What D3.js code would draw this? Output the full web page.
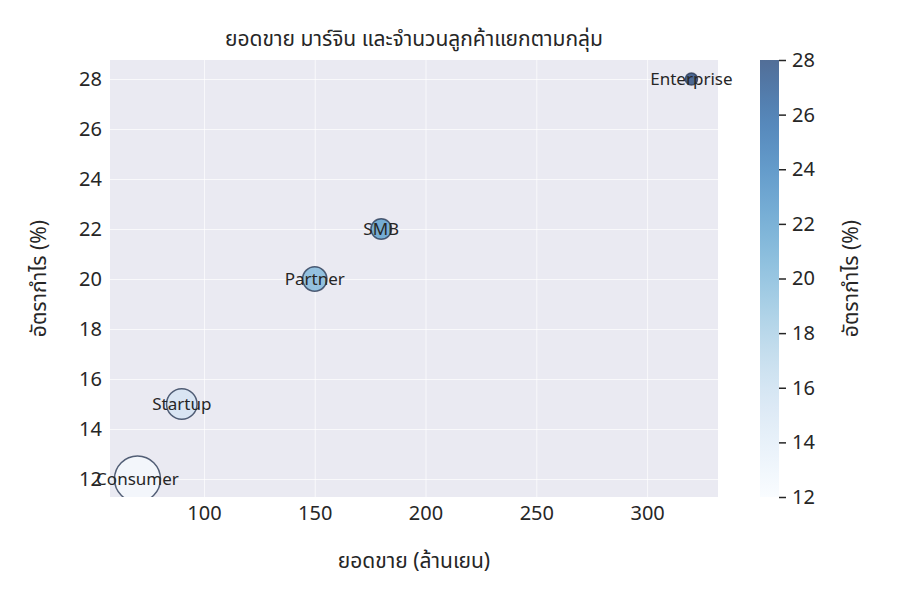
<!DOCTYPE html>
<html><head><meta charset="utf-8">
<script src="https://cdn.jsdelivr.net/npm/d3@7"></script>
<style>body{margin:0;background:#fff}text{font-family:"Noto Sans","Noto Sans Thai",sans-serif;fill:#262626}</style>
</head><body><svg id="c" width="900" height="600"></svg>
<script>
const segments=["Consumer","Startup","Partner","SMB","Enterprise"];
const sales=[70,90,150,180,320];
const margin=[12,15,20,22,28];
const customers=[500,220,140,100,35];
const xTicks=[100,150,200,250,300];
const yTicks=[12,14,16,18,20,22,24,26,28];
const cbTicks=[12,14,16,18,20,22,24,26,28];

const svg=d3.select("#c");
const L=110,R=718,T=60,B=497;
const x=d3.scaleLinear().domain([57.6,332]).range([L,R]);
const y=d3.scaleLinear().domain([11.28,28.76]).range([B,T]);
const r=d3.scaleSqrt().domain([0,500]).range([0,23]);
const col=v=>d3.interpolateBlues((v-12)/16);

svg.append("rect").attr("x",L).attr("y",T).attr("width",R-L).attr("height",B-T).attr("fill","#EAEAF2");
const defs=svg.append("defs");
defs.append("clipPath").attr("id","pc").append("rect").attr("x",L).attr("y",T).attr("width",R-L).attr("height",B-T);

svg.append("g").attr("transform",`translate(0,${B})`).call(d3.axisBottom(x).tickValues(xTicks).tickSize(-(B-T)).tickPadding(9))
 .call(g=>{g.select(".domain").remove();g.selectAll("line").attr("stroke","#fff").attr("stroke-opacity",0.7);g.selectAll("text").attr("font-size",20);});
svg.append("g").attr("transform",`translate(${L},0)`).call(d3.axisLeft(y).tickValues(yTicks).tickSize(-(R-L)).tickPadding(8))
 .call(g=>{g.select(".domain").remove();g.selectAll("line").attr("stroke","#fff").attr("stroke-opacity",0.7);g.selectAll("text").attr("font-size",20);});

const pg=svg.append("g").attr("clip-path","url(#pc)");
segments.forEach((s,i)=>{
  pg.append("circle").attr("cx",x(sales[i])).attr("cy",y(margin[i])).attr("r",r(customers[i]))
    .attr("fill",col(margin[i])).attr("fill-opacity",0.7).attr("stroke","#2b3a55").attr("stroke-opacity",0.8).attr("stroke-width",1.5);
});
segments.forEach((s,i)=>{
  svg.append("text").attr("x",x(sales[i])).attr("y",y(margin[i])).attr("dy","0.35em").attr("text-anchor","middle").attr("font-size",17).text(s);
});

svg.append("text").attr("x",(L+R)/2).attr("y",46).attr("text-anchor","middle").attr("font-size",21).text("ยอดขาย มาร์จิน และจำนวนลูกค้าแยกตามกลุ่ม");
svg.append("text").attr("x",(L+R)/2).attr("y",568).attr("text-anchor","middle").attr("font-size",21).text("ยอดขาย (ล้านเยน)");
svg.append("text").attr("transform",`translate(46,${(T+B)/2}) rotate(-90)`).attr("text-anchor","middle").attr("font-size",21).text("อัตรากำไร (%)");

const cx0=760,cw=19;
const cy=d3.scaleLinear().domain([12,28]).range([B,T]);
const grad=defs.append("linearGradient").attr("id","cb").attr("x1",0).attr("y1",1).attr("x2",0).attr("y2",0);
d3.range(0,1.001,0.05).forEach(t=>grad.append("stop").attr("offset",t).attr("stop-color",d3.interpolateBlues(t)).attr("stop-opacity",0.7));
svg.append("rect").attr("x",cx0).attr("y",T).attr("width",cw).attr("height",B-T).attr("fill","url(#cb)");
svg.append("g").attr("transform",`translate(${cx0+cw},0)`).call(d3.axisRight(cy).tickValues(cbTicks).tickSize(7).tickPadding(6))
 .call(g=>{g.select(".domain").remove();g.selectAll("line").attr("stroke","#262626").attr("stroke-width",1.5);g.selectAll("text").attr("font-size",20);});
svg.append("text").attr("transform",`translate(858,${(T+B)/2}) rotate(-90)`).attr("text-anchor","middle").attr("font-size",21).text("อัตรากำไร (%)");
</script></body></html>
